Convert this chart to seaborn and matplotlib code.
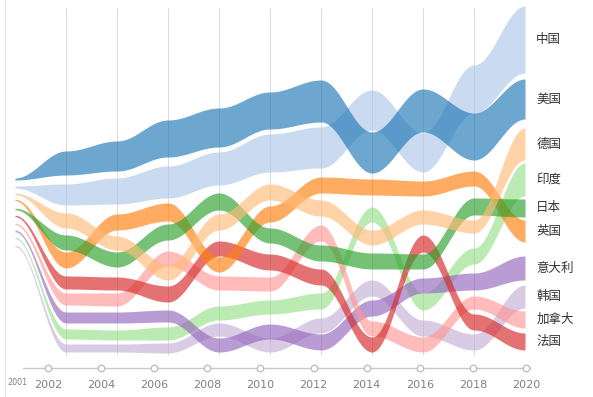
import numpy as np
import pandas as pd
import matplotlib
matplotlib.use('Agg')
import matplotlib.pyplot as plt
from matplotlib.lines import Line2D
import seaborn as sns

# years on the ribbon (2001 is the common starting point)
years = [2001, 2002, 2004, 2006, 2008, 2010, 2012, 2014, 2016, 2018, 2020]
axis_years = [2002, 2004, 2006, 2008, 2010, 2012, 2014, 2016, 2018, 2020]

countries = ['美国', '中国', '德国', '日本', '英国', '法国', '加拿大', '意大利', '印度', '韩国']

# band centre (height above baseline) and band thickness per year
us_level = [181, 197, 204, 221.5, 232.5, 249.5, 259, 207.5, 249.5, 223.5, 261]
us_width = [2, 24, 30, 37, 39, 37, 42, 41, 43, 47, 40]
cn_level = [173, 165.5, 169, 178, 191.5, 207, 212.5, 250, 207.5, 271, 320.5]
cn_width = [2, 21, 26, 32, 33, 38, 41, 40, 39, 48, 67]
de_level = [166, 139.5, 117, 88, 138, 168, 152, 122.5, 143, 133.5, 216]
de_width = [1.5, 15, 14, 16, 16, 16, 16, 15, 14, 13, 32]
jp_level = [151, 117.5, 100.5, 128, 158.5, 124.5, 107, 99, 98.5, 153.5, 152]
jp_width = [1.5, 15, 15, 16, 17, 15, 16, 16, 15, 17, 18]
uk_level = [160, 100, 138, 148, 95.5, 146, 175, 173, 171.5, 181.5, 129]
uk_width = [1.5, 16, 16, 18, 15, 16, 16, 16, 15, 15, 22]
fr_level = [144, 77.5, 76.5, 66, 111.5, 98, 83, 15.5, 116.5, 38, 18.5]
fr_width = [1.5, 13, 13, 16, 15, 16, 16, 15, 17, 16, 17]
ca_level = [136, 61, 60.5, 101.5, 77, 76, 127, 31.5, 15.5, 57.5, 40.5]
ca_width = [1.5, 12, 13, 15, 14, 14, 16, 15, 15, 13, 17]
it_level = [129, 42.5, 42.5, 44, 15, 28.5, 18, 52, 74.5, 78.5, 92]
it_width = [1.5, 11, 11, 12, 14, 15, 16, 16, 15, 17, 24]
in_level = [122, 26, 25, 26.5, 47, 53, 59, 145.5, 58.5, 104, 180.5]
in_width = [1.5, 10, 10, 13, 14, 14, 16, 15, 17, 16, 33]
kr_level = [114, 12, 12, 12, 30.5, 15, 34.5, 72, 32, 18, 63.5]
kr_width = [1.5, 8, 8, 10, 13, 14, 15, 16, 16, 16, 23]

levels = [us_level, cn_level, de_level, jp_level, uk_level,
          fr_level, ca_level, it_level, in_level, kr_level]
widths = [us_width, cn_width, de_width, jp_width, uk_width,
          fr_width, ca_width, it_width, in_width, kr_width]

pal = sns.color_palette('tab20')
colors = {'美国': pal[0], '中国': pal[1], '英国': pal[2], '德国': pal[3],
          '日本': pal[4], '印度': pal[5], '法国': pal[6], '加拿大': pal[7],
          '意大利': pal[8], '韩国': pal[9]}

rows = []
for c, lv, wd in zip(countries, levels, widths):
    for i, y in enumerate(years):
        rows.append({'country': c, 'year': y, 'pos': i, 'level': lv[i], 'width': wd[i]})
df = pd.DataFrame(rows)


def smooth(vals, n=80):
    xs, ys = [], []
    for i in range(len(vals) - 1):
        t = np.linspace(0, 1, n, endpoint=False)
        s = (1 - np.cos(np.pi * t)) / 2
        xs.append(i + t)
        ys.append(vals[i] + (vals[i + 1] - vals[i]) * s)
    xs.append([len(vals) - 1])
    ys.append([vals[-1]])
    return np.concatenate(xs), np.concatenate(ys)


sns.set_style('white')
plt.rcParams['font.family'] = ['Noto Sans CJK SC', 'DejaVu Sans']

fig = plt.figure(figsize=(5.93, 3.97), dpi=100)
ax = fig.add_axes([15 / 593, 37 / 397, 510 / 593, 360 / 397])
ax.set_xlim(0, len(years) - 1)
ax.set_ylim(0, 360)
ax.axis('off')

# grid lines at each year node
ax.vlines(range(1, len(years) - 1), 5, 352, color='#dcdcdc', lw=0.8, zorder=0)
fig.add_artist(Line2D([5 / 593, 5 / 593], [0, 1], color='#e4e4e4', lw=0.8))

for c in countries[::-1]:
    d = df[df['country'] == c].sort_values('pos')
    lo = (d['level'] - d['width'] / 2).to_numpy()
    hi = (d['level'] + d['width'] / 2).to_numpy()
    xs, lo_s = smooth(lo)
    _, hi_s = smooth(hi)
    ax.fill_between(xs, lo_s, hi_s, color=colors[c], alpha=0.65, lw=0, zorder=2)
    ax.text(len(years) - 1 + 0.22, d['level'].iloc[-1], c, fontsize=9,
            color='#333333', va='center', ha='left', clip_on=False)

# timeline axis at the bottom
ax2 = fig.add_axes([0, 0, 1, 37 / 397])
ax2.set_xlim(2002 - 48 / 26.56, 2002 + (593 - 48) / 26.56)
ax2.set_ylim(0, 1)
ax2.axis('off')
ax2.axhline(0.78, xmin=23 / 593, xmax=530 / 593, color='#c8c8c8', lw=1, zorder=1)
ax2.scatter(axis_years, [0.78] * len(axis_years), s=22, facecolor='white',
            edgecolor='#bbbbbb', linewidth=0.9, zorder=2)
for y in axis_years:
    ax2.text(y, 0.32, str(y), fontsize=8, color='#808080', ha='center', va='center',
             family='DejaVu Sans')
ax2.text(2000.85, 0.38, '2001', fontsize=5.8, color='#808080', ha='center', va='center',
         family='DejaVu Sans')

fig.savefig('out.png', dpi=100)
